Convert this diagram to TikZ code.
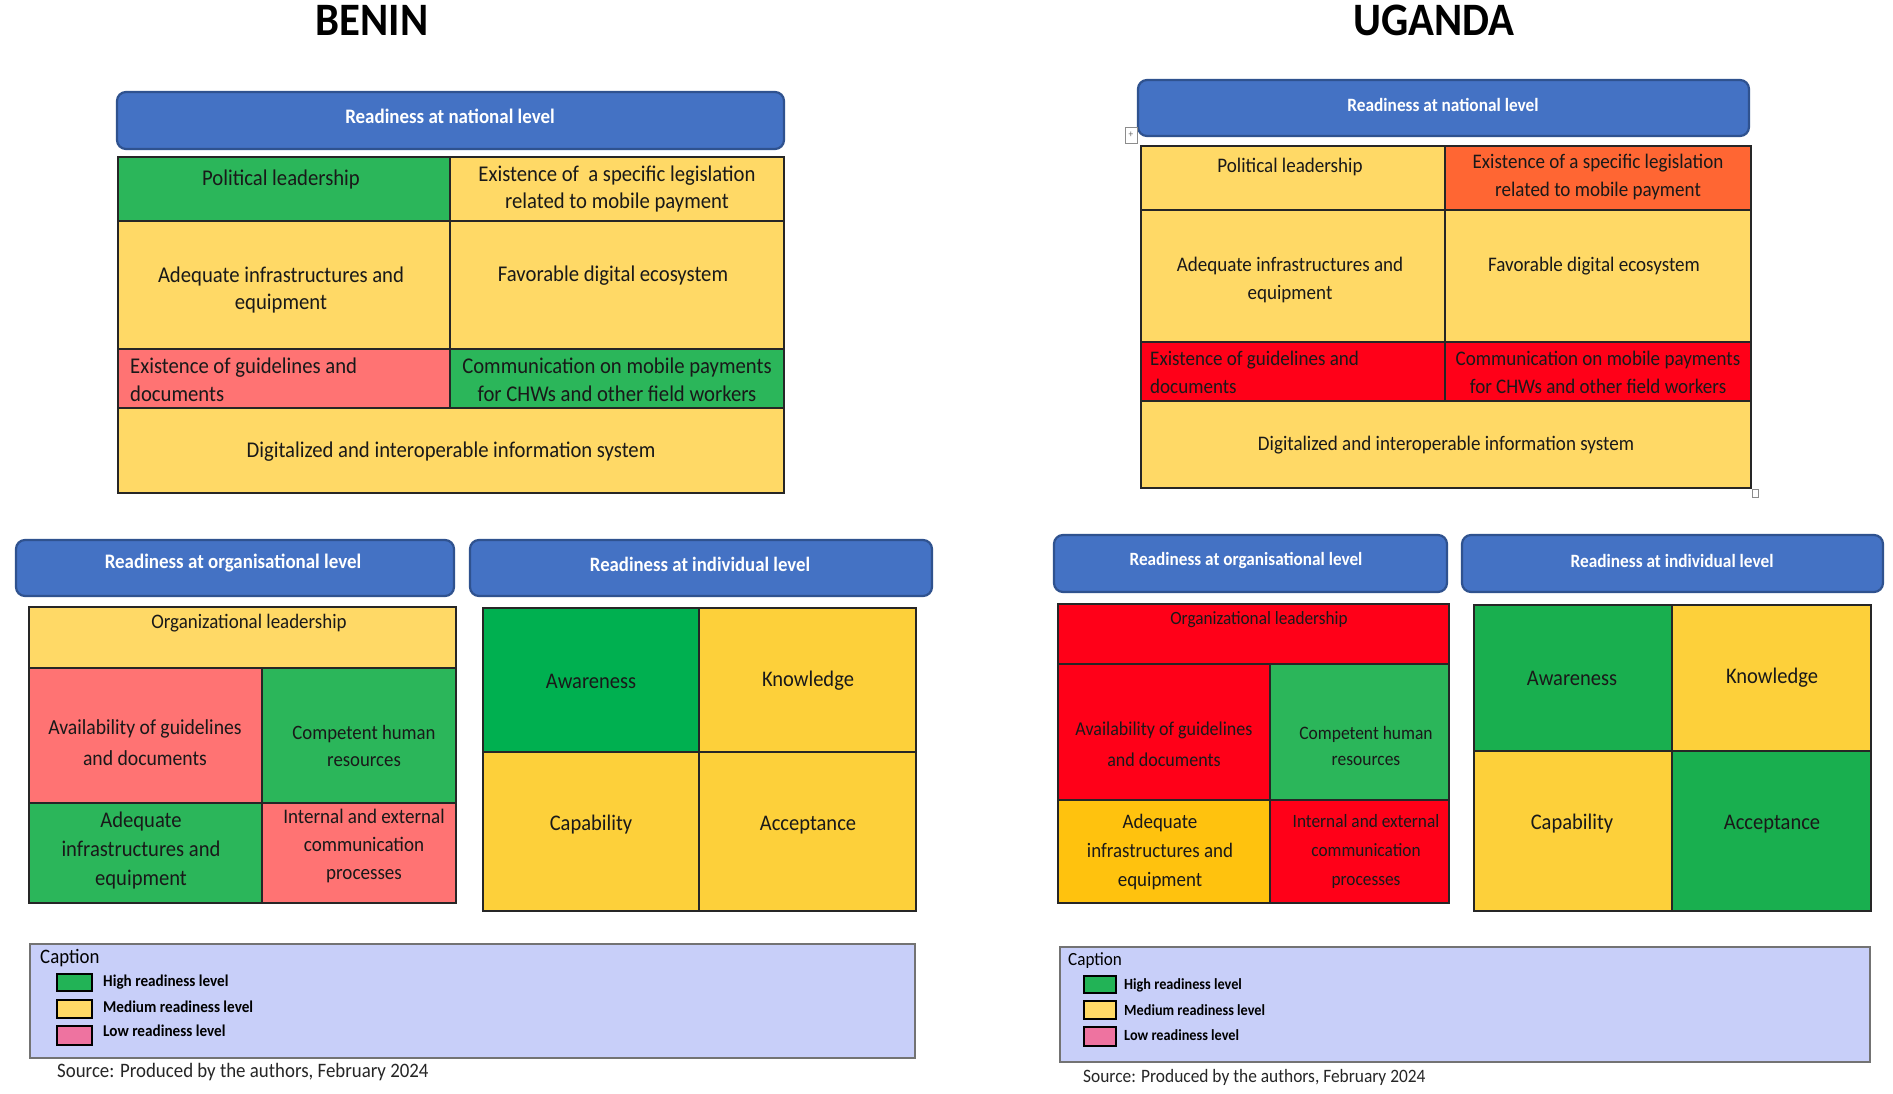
\documentclass[tikz,border=0pt]{standalone}
\usepackage{fontspec}
\setmainfont{Carlito}[FakeStretch=0.92]
\definecolor{hdrblue}{HTML}{4472C4}
\definecolor{hdrborder}{HTML}{2F528F}
\definecolor{grnA}{HTML}{2BB65A}
\definecolor{grnB}{HTML}{00B050}
\definecolor{grnC}{HTML}{19AF4F}
\definecolor{ylwA}{HTML}{FFD966}
\definecolor{ylwB}{HTML}{FDD03A}
\definecolor{ylwC}{HTML}{FFC20E}
\definecolor{pinkA}{HTML}{FF7373}
\definecolor{redA}{HTML}{FF0018}
\definecolor{orgA}{HTML}{FF6633}
\definecolor{capbg}{HTML}{C8CFF9}
\definecolor{legpink}{HTML}{EE73A0}
\definecolor{leggrn}{HTML}{22B356}
\newcommand\bx[6]{\node[#6, minimum width={#4-#2}, minimum height={#5-#3}] (#1) at ({(#2+#4)/2},{(#3+#5)/2}) {};}
\newcommand\fsz[2]{\fontsize{#1}{#2}\selectfont}
\tikzset{
  hdr/.style={draw=hdrborder, line width=2.2pt, fill=hdrblue, rounded corners=9pt, inner sep=0},
  hdrtext/.style={text=white, font=\bfseries\fsz{#1}{24}, inner sep=0},
  cellst/.style={draw=black!85, line width=1.3pt, inner sep=0},
  ctext/.style={align=center, text=black!90, inner sep=0},
  titletext/.style={font=\bfseries\fsz{46.5}{50}, inner sep=0},
  capbox/.style={draw=black!55, line width=2pt, fill=capbg, inner sep=0},
  captext/.style={anchor=west, inner sep=0},
  legtext/.style={font=\bfseries\fsz{#1}{18}, anchor=west, inner sep=0},
  legsq/.style={draw=black, line width=2pt, inner sep=0},
  srctext/.style={anchor=west, inner sep=0, text=black!85},
  handle/.style={draw=black!45, line width=0.8pt, fill=white, inner sep=0}
}
\begin{document}
\begin{tikzpicture}[x=1pt,y=-1pt]
\fill[white] (0,0) rectangle (1893,1093);
\useasboundingbox (0,0) rectangle (1893,1093);

% ================= BENIN =================
\node[titletext] (tB) at (372,20) {BENIN};

\bx{hBn}{117}{92}{784}{149}{hdr}
\node[hdrtext=20.6] (thBn) at (450,116) {Readiness at national level};

\bx{bn11}{118}{157}{450}{221}{cellst, fill=grnA}
\bx{bn12}{450}{157}{784}{221}{cellst, fill=ylwA}
\bx{bn21}{118}{221}{450}{349}{cellst, fill=ylwA}
\bx{bn22}{450}{221}{784}{349}{cellst, fill=ylwA}
\bx{bn31}{118}{349}{450}{408}{cellst, fill=pinkA}
\bx{bn32}{450}{349}{784}{408}{cellst, fill=grnA}
\bx{bn41}{118}{408}{784}{493}{cellst, fill=ylwA}
\begin{scope}[every node/.append style={font=\fsz{22.5}{27.5}}]
\node[ctext] (tbn11) at (281,179) {Political leadership};
\node[ctext] (tbn12) at (617,189) {Existence of \ a specific legislation\\related to mobile payment};
\node[ctext] (tbn21) at (281,290) {Adequate infrastructures and\\equipment};
\node[ctext] (tbn22) at (613,276) {Favorable digital ecosystem};
\node[ctext, align=left, anchor=west] (tbn31) at (130,380) {Existence of guidelines and\\documents};
\node[ctext] (tbn32) at (617,380) {Communication on mobile payments\\for CHWs and other field workers};
\node[ctext] (tbn41) at (451,452) {Digitalized and interoperable information system};
\end{scope}

\bx{hBo}{16}{540}{454}{596}{hdr}
\node[hdrtext=20.6] (thBo) at (233,563) {Readiness at organisational level};
\bx{bo1}{29}{607}{456}{668}{cellst, fill=ylwA}
\bx{bo21}{29}{668}{262}{803}{cellst, fill=pinkA}
\bx{bo22}{262}{668}{456}{803}{cellst, fill=grnA}
\bx{bo31}{29}{803}{262}{903}{cellst, fill=grnA}
\bx{bo32}{262}{803}{456}{903}{cellst, fill=pinkA}
\node[ctext, font=\fsz{20.6}{24}] (tbo1) at (249,623) {Organizational leadership};
\node[ctext, font=\fsz{21.4}{31}] (tbo21) at (145,743) {Availability of guidelines\\and documents};
\node[ctext, font=\fsz{20.4}{26.6}] (tbo22) at (364,746) {Competent human\\resources};
\node[ctext, font=\fsz{22.4}{29}] (tbo31) at (141,851) {Adequate\\infrastructures and\\equipment};
\node[ctext, font=\fsz{20.7}{28}] (tbo32) at (364,846) {Internal and external\\communication\\processes};

\bx{hBi}{470}{540}{932}{596}{hdr}
\node[hdrtext=20.4] (thBi) at (700,564) {Readiness at individual level};
\bx{bi11}{483}{608}{699}{752}{cellst, fill=grnB}
\bx{bi12}{699}{608}{916}{752}{cellst, fill=ylwB}
\bx{bi21}{483}{752}{699}{911}{cellst, fill=ylwB}
\bx{bi22}{699}{752}{916}{911}{cellst, fill=ylwB}
\begin{scope}[every node/.append style={font=\fsz{22.3}{27}}]
\node[ctext] (tbi11) at (591,681) {Awareness};
\node[ctext] (tbi12) at (808,681) {Knowledge};
\node[ctext] (tbi21) at (591,825) {Capability};
\node[ctext] (tbi22) at (808,825) {Acceptance};
\end{scope}

\bx{cB}{30}{944}{915}{1058}{capbox}
\node[captext, font=\fsz{20.5}{24}] (tcB) at (40,958) {Caption};
\bx{lBg}{57}{974}{92}{991}{legsq, fill=leggrn}
\bx{lBy}{57}{1000}{92}{1018}{legsq, fill=ylwA}
\bx{lBp}{57}{1026}{92}{1045}{legsq, fill=legpink}
\node[legtext=16.5] (tlBg) at (103,982) {High readiness level};
\node[legtext=16.5] (tlBy) at (103,1007) {Medium readiness level};
\node[legtext=16.5] (tlBp) at (103,1031) {Low readiness level};
\node[srctext, font=\fsz{20.5}{24}] (sB) at (57,1072) {Source: Produced by the authors, February 2024};

% ================= UGANDA =================
\node[titletext] (tU) at (1434,20) {UGANDA};

\bx{hUn}{1138}{80}{1749}{136}{hdr}
\node[hdrtext=18.8] (thUn) at (1443,105) {Readiness at national level};
\bx{hdl}{1125}{127}{1137}{143}{handle}
\node[font=\fsz{10}{10}, inner sep=0, text=black!60] (hdlp) at (hdl.center) {+};

\bx{un11}{1141}{146}{1445}{210}{cellst, fill=ylwA}
\bx{un12}{1445}{146}{1751}{210}{cellst, fill=orgA}
\bx{un21}{1141}{210}{1445}{342}{cellst, fill=ylwA}
\bx{un22}{1445}{210}{1751}{342}{cellst, fill=ylwA}
\bx{un31}{1141}{342}{1445}{401}{cellst, fill=redA}
\bx{un32}{1445}{342}{1751}{401}{cellst, fill=redA}
\bx{un41}{1141}{401}{1751}{488}{cellst, fill=ylwA}
\bx{sq}{1752}{489}{1758}{497}{handle}
\begin{scope}[every node/.append style={font=\fsz{20.7}{28}}]
\node[ctext] (tun11) at (1290,167) {Political leadership};
\node[ctext] (tun12) at (1598,177) {Existence of a specific legislation\\related to mobile payment};
\node[ctext] (tun21) at (1290,280) {Adequate infrastructures and\\equipment};
\node[ctext] (tun22) at (1594,266) {Favorable digital ecosystem};
\node[ctext, align=left, anchor=west] (tun31) at (1150,372) {Existence of guidelines and\\documents};
\node[ctext] (tun32) at (1598,372) {Communication on mobile payments\\for CHWs and other field workers};
\node[ctext] (tun41) at (1446,445) {Digitalized and interoperable information system};
\end{scope}

\bx{hUo}{1054}{535}{1447}{592}{hdr}
\node[hdrtext=18.7] (thUo) at (1246,561) {Readiness at organisational level};
\bx{uo1}{1058}{604}{1449}{664}{cellst, fill=redA}
\bx{uo21}{1058}{664}{1270}{800}{cellst, fill=redA}
\bx{uo22}{1270}{664}{1449}{800}{cellst, fill=grnA}
\bx{uo31}{1058}{800}{1270}{903}{cellst, fill=ylwC}
\bx{uo32}{1270}{800}{1449}{903}{cellst, fill=redA}
\node[ctext, font=\fsz{18.7}{24}] (tuo1) at (1259,620) {Organizational leadership};
\node[ctext, font=\fsz{19.6}{31}] (tuo21) at (1164,744) {Availability of guidelines\\and documents};
\node[ctext, font=\fsz{19}{26.6}] (tuo22) at (1366,746) {Competent human\\resources};
\node[ctext, font=\fsz{20.6}{29}] (tuo31) at (1160,852) {Adequate\\infrastructures and\\equipment};
\node[ctext, font=\fsz{18.8}{29}] (tuo32) at (1366,851) {Internal and external\\communication\\processes};

\bx{hUi}{1462}{535}{1883}{592}{hdr}
\node[hdrtext=18.8] (thUi) at (1672,561) {Readiness at individual level};
\bx{ui11}{1474}{605}{1672}{751}{cellst, fill=grnC}
\bx{ui12}{1672}{605}{1871}{751}{cellst, fill=ylwB}
\bx{ui21}{1474}{751}{1672}{911}{cellst, fill=ylwB}
\bx{ui22}{1672}{751}{1871}{911}{cellst, fill=grnC}
\begin{scope}[every node/.append style={font=\fsz{22.3}{27}}]
\node[ctext] (tui11) at (1572,678) {Awareness};
\node[ctext] (tui12) at (1772,678) {Knowledge};
\node[ctext] (tui21) at (1572,824) {Capability};
\node[ctext] (tui22) at (1772,824) {Acceptance};
\end{scope}

\bx{cU}{1060}{947}{1870}{1062}{capbox}
\node[captext, font=\fsz{18.6}{22}] (tcU) at (1068,961) {Caption};
\bx{lUg}{1084}{976}{1116}{993}{legsq, fill=leggrn}
\bx{lUy}{1084}{1001}{1116}{1019}{legsq, fill=ylwA}
\bx{lUp}{1084}{1027}{1116}{1046}{legsq, fill=legpink}
\node[legtext=15.5] (tlUg) at (1124,985) {High readiness level};
\node[legtext=15.5] (tlUy) at (1124,1010) {Medium readiness level};
\node[legtext=15.5] (tlUp) at (1124,1035) {Low readiness level};
\node[srctext, font=\fsz{18.9}{22}] (sU) at (1083,1077) {Source: Produced by the authors, February 2024};
\end{tikzpicture}
\end{document}
